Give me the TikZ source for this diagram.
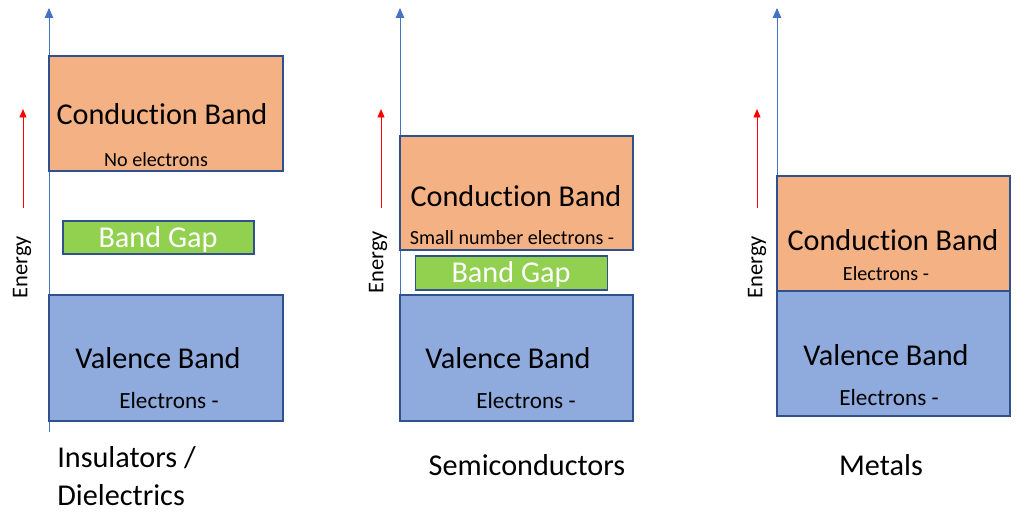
\documentclass[tikz,border=0pt]{standalone}
\usepackage{fontspec}
\setmainfont{Carlito}[Ligatures={NoCommon,NoContextual}, Contextuals=NoAlternate]
\usetikzlibrary{arrows.meta}
\definecolor{bandedge}{HTML}{2F528F}
\definecolor{axisblue}{HTML}{4472C4}
\definecolor{condfill}{HTML}{F4B183}
\definecolor{valfill}{HTML}{8FAADC}
\definecolor{gapfill}{HTML}{92D050}
\newcommand{\condband}{Conduc\kern0pt tion Band}
\tikzset{
  band/.style={draw=bandedge, line width=0.9pt, inner sep=0pt},
  bigtxt/.style={font=\fontsize{21.5}{24}\selectfont, inner sep=0pt},
  smalltxt/.style={font=\fontsize{14.3}{17}\selectfont, inner sep=0pt},
  midtxt/.style={font=\fontsize{16.5}{19}\selectfont, inner sep=0pt},
  energytxt/.style={font=\fontsize{16}{18}\selectfont, rotate=90, inner sep=0pt}
}
\begin{document}
\begin{tikzpicture}[x=0.025cm, y=-0.025cm]
  \useasboundingbox (0,0) rectangle (1018,513);
  % energy axes and red arrows
  \foreach \n/\ax/\axlow/\rx in {1/49/432/23, 2/400/421/381, 3/777/291/757} {
    \coordinate (axb\n) at (\ax,\axlow);
    \coordinate (axt\n) at (\ax,8);
    \draw[axisblue, line width=0.6pt, -{Triangle[width=6pt,length=7pt]}] (axb\n) -- (axt\n);
    \coordinate (eb\n) at (\rx,208);
    \coordinate (et\n) at (\rx,109);
    \draw[red, line width=0.6pt, -{Triangle[width=5pt,length=6pt]}] (eb\n) -- (et\n);
  }
  \node[energytxt] (en1) at (22,267) {Energy};
  \node[energytxt] (en2) at (378,262) {Energy};
  \node[energytxt] (en3) at (757,267) {Energy};

  % insulators
  \node[band, fill=condfill, minimum width=5.85cm, minimum height=2.875cm] (cb1) at (166,113.5) {};
  \node[band, fill=gapfill, minimum width=4.775cm, minimum height=0.825cm] (gap1) at (158.5,237.5) {};
  \node[band, fill=valfill, minimum width=5.85cm, minimum height=3.15cm] (vb1) at (166,358) {};
  \node[bigtxt] (cbt1) at (162,114) {\condband};
  \node[smalltxt] (cbs1) at (156,160) {No electrons};
  \node[bigtxt, white] (gapt1) at (158,239) {Band Gap};
  \node[bigtxt] (vbt1) at (158,358) {Valence Band};
  \node[midtxt] (vbs1) at (169,401) {Electrons -};
  \node[bigtxt, anchor=west, align=left] (lab1) at (57,476) {Insulators /\\[3pt]Dielectrics};

  % semiconductors
  \node[band, fill=condfill, minimum width=5.825cm, minimum height=2.85cm] (cb2) at (516.5,193) {};
  \node[band, fill=gapfill, minimum width=4.8cm, minimum height=0.85cm] (gap2) at (511.5,273) {};
  \node[band, fill=valfill, minimum width=5.825cm, minimum height=3.15cm] (vb2) at (516.5,358) {};
  \node[bigtxt] (cbt2) at (516,196) {\condband};
  \node[smalltxt] (cbs2) at (512,238) {Small number electrons -};
  \node[bigtxt, white] (gapt2) at (511,274) {Band Gap};
  \node[bigtxt] (vbt2) at (508,358) {Valence Band};
  \node[midtxt] (vbs2) at (526,401) {Electrons -};
  \node[bigtxt] (lab2) at (527,465) {Semiconductors};

  % metals
  \node[band, fill=condfill, minimum width=5.825cm, minimum height=2.875cm] (cb3) at (893.5,233.5) {};
  \node[band, fill=valfill, minimum width=5.825cm, minimum height=3.125cm] (vb3) at (893.5,353.5) {};
  \node[bigtxt] (cbt3) at (893,240) {\condband};
  \node[smalltxt] (cbs3) at (886,274) {Electrons -};
  \node[bigtxt] (vbt3) at (886,355) {Valence Band};
  \node[midtxt] (vbs3) at (889,398) {Electrons -};
  \node[bigtxt] (lab3) at (881,465) {Metals};
\end{tikzpicture}
\end{document}
